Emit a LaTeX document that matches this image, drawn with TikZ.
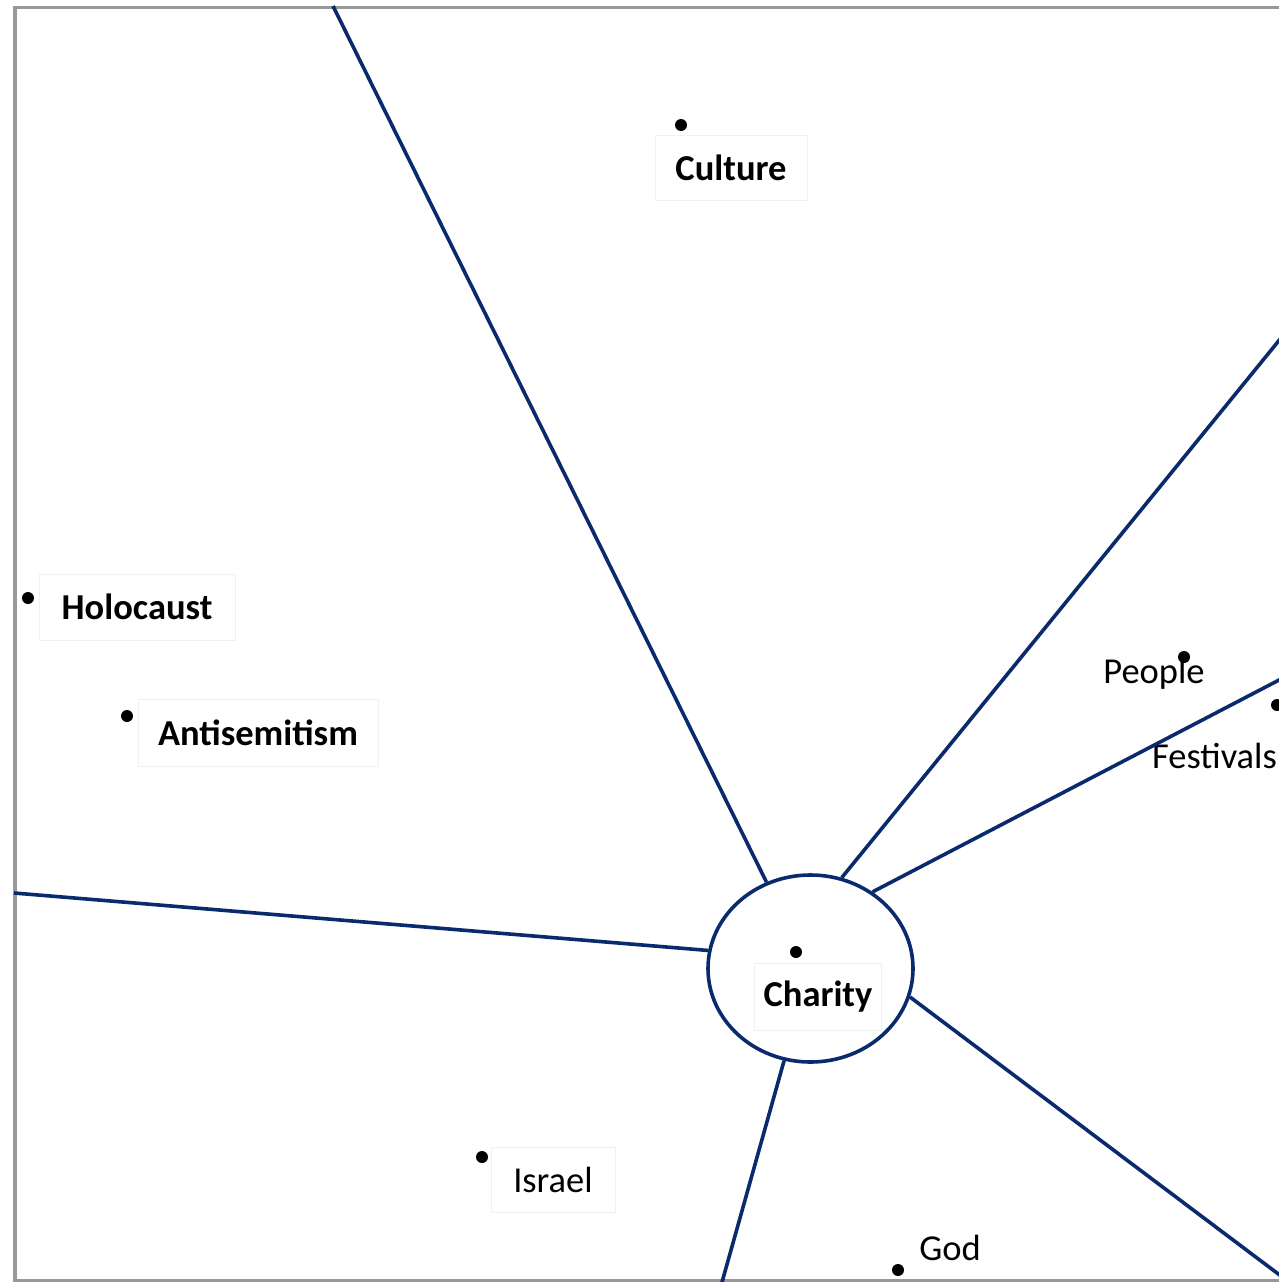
\documentclass[tikz,border=0pt]{standalone}
\usepackage{fontspec}
\setmainfont{Carlito}
\usetikzlibrary{shapes.geometric}
\definecolor{navy}{HTML}{0A2A6E}
\begin{document}
\begin{tikzpicture}[x=1pt,y=-1pt,
  spoke/.style={draw=navy,line width=3.6pt},
  dot/.style={circle,fill=black,inner sep=0pt,minimum size=12pt},
  boxlbl/.style={draw=black!6,line width=1pt,inner sep=0pt,font=\fontsize{36.5}{42}\selectfont\bfseries},
  boxreg/.style={draw=black!6,line width=1pt,inner sep=0pt,font=\fontsize{36.5}{42}\selectfont},
  freelbl/.style={inner sep=0pt,font=\fontsize{36.5}{42}\selectfont},
]
\useasboundingbox (0,0) rectangle (1279,1282);
\clip (0,0) rectangle (1279,1282);
\fill[white] (0,0) rectangle (1279,1282);
% frame
\draw[gray!80, line width=3.5pt] (1285,7.5) -- (15,7.5) -- (15,1280.5) -- (1285,1280.5);

% label boxes
\node[boxlbl, minimum width=152pt, minimum height=65pt] (culture) at (731,168) {Culture};
\node[boxlbl, minimum width=196pt, minimum height=66pt] (holocaust) at (137,607) {Holocaust};
\node[boxlbl, minimum width=240pt, minimum height=67pt] (antisem) at (258,733) {Antisemitism};
\node[boxlbl, minimum width=127pt, minimum height=67pt] (charitylbl) at (818,997) {Charity};
\node[boxreg, minimum width=124pt, minimum height=65pt] (israel) at (553,1180) {Israel};
\node[freelbl] (people) at (1154,674) {People};
\node[freelbl, anchor=east] (festivals) at (1277,756) {Festivals};
\node[freelbl] (god) at (950,1248) {God};

% dots
\node[dot] (dculture) at (681,125) {};
\node[dot] (dholocaust) at (28,598) {};
\node[dot] (dantisem) at (127,716) {};
\node[dot] (dpeople) at (1184,657) {};
\node[dot] (dfestivals) at (1277,705) {};
\node[dot] (dcharity) at (796,952) {};
\node[dot] (disrael) at (482,1157) {};
\node[dot] (dgod) at (898,1270) {};

% central circle
\node[ellipse, draw=navy, line width=3.6pt, minimum width=205pt, minimum height=187pt, inner sep=0pt] (charity) at (810.5,968.5) {};

% spoke ends
\coordinate (e1) at (333,6);
\coordinate (e2) at (1281,338);
\coordinate (e3) at (1281,679);
\coordinate (e4) at (14,893);
\coordinate (e5) at (1281,1276);
\coordinate (e6) at (721.5,1284);

\draw[spoke] (charity.117.6) -- (e1);
\draw[spoke] (charity.71.2) -- (e2);
\draw[spoke] (charity.51.4) -- (e3);
\draw[spoke] (charity.170) -- (e4);
\draw[spoke] (charity.-16.2) -- (e5);
\draw[spoke] (charity.-106.6) -- (e6);
\end{tikzpicture}
\end{document}
